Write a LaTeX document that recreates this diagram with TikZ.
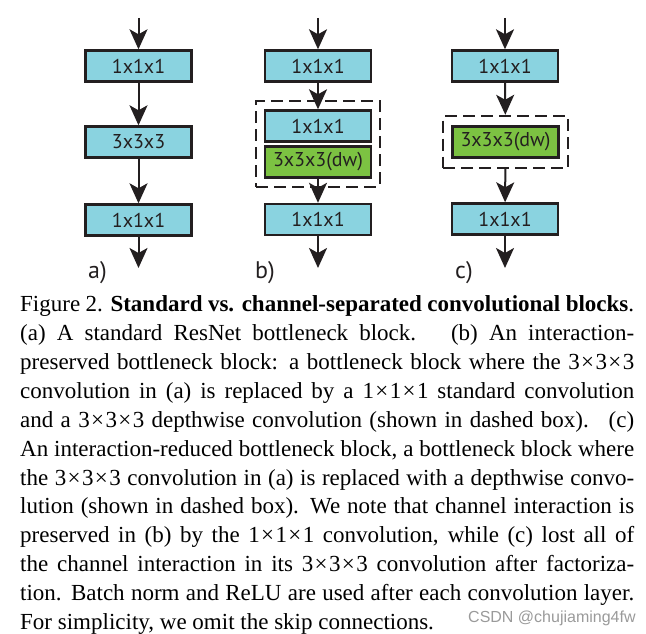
\documentclass[tikz,border=0pt]{standalone}
\usepackage{fontspec}
\setmainfont{Liberation Serif}
\newfontfamily\boxfont{PT Sans}
\newfontfamily\markfont{Liberation Sans}
\usepackage{xcolor}
\usetikzlibrary{arrows.meta,fit}
\definecolor{box_blue}{HTML}{8AD3E0}
\definecolor{box_green}{HTML}{7CC242}
\definecolor{edge_dark}{HTML}{231F20}
\definecolor{mark_gray}{HTML}{9A9A9A}
\newcommand{\capline}[1]{\makebox[614bp][s]{#1}}
\newcommand{\tms}{\kern0.06em×\kern0.06em}

\begin{document}
\begin{tikzpicture}[x=1bp, y=-1bp,
	conv/.style={draw=edge_dark, line width=2.4bp, inner sep=0pt, minimum width=106bp, minimum height=31bp, font=\boxfont\fontsize{20bp}{22bp}\selectfont, text=edge_dark},
	std/.style={conv, fill=box_blue},
	dw/.style={conv, fill=box_green},
	group/.style={draw=edge_dark, line width=2bp, dash pattern=on 12bp off 6bp},
	flow/.style={draw=edge_dark, line width=2bp, -{Stealth[length=20bp, width=18bp, inset=5bp]}},
	tag/.style={anchor=base west, inner sep=0pt, font=\boxfont\fontsize{24bp}{26bp}\selectfont, text=edge_dark}]
	\useasboundingbox (0, 0) rectangle (646, 634);
	% a) standard bottleneck
	\coordinate (a_in) at (138.5, 18);
	\coordinate (a_out) at (138.5, 268);
	\node[std] (a1) at (138.5, 66) {1x1x1};
	\node[std] (a2) at (138.5, 142) {3x3x3};
	\node[std] (a3) at (138.5, 220) {1x1x1};
	\draw[flow] (a_in) -- (a1);
	\draw[flow] (a1) -- (a2);
	\draw[flow] (a2) -- (a3);
	\draw[flow] (a3) -- (a_out);
	\node[tag] (a_tag) at (88, 278) {a)};
	% b) interaction-preserved
	\coordinate (b_in) at (318, 18);
	\coordinate (b_out) at (318, 268);
	\node[std] (b1) at (318, 66) {1x1x1};
	\node[std] (b2) at (318, 126) {1x1x1};
	\node[dw] (b3) at (318, 162) {3x3x3(dw)};
	\node[std] (b4) at (318, 219.5) {1x1x1};
	\node[group, fit=(b2)(b3), inner xsep=7.5bp, inner ysep=8bp] (b_group) {};
	\draw[flow] (b_in) -- (b1);
	\draw[flow] (b1) -- (b2);
	\draw[flow] (b3) -- (b4);
	\draw[flow] (b4) -- (b_out);
	\node[tag] (b_tag) at (255, 278) {b)};
	% c) interaction-reduced
	\coordinate (c_in) at (505, 18);
	\coordinate (c_out) at (505, 268);
	\node[std] (c1) at (505, 66) {1x1x1};
	\node[dw] (c2) at (505.5, 142) {3x3x3(dw)};
	\node[std] (c3) at (505, 219) {1x1x1};
	\node[group, fit=(c2), inner xsep=8bp, inner ysep=9.5bp] (c_group) {};
	\draw[flow] (c_in) -- (c1);
	\draw[flow] (c1) -- (c_group);
	\draw[flow] (c_group) -- (c3);
	\draw[flow] (c3) -- (c_out);
	\node[tag] (c_tag) at (455, 278) {c)};
	% caption
	\node[anchor=north west, inner sep=0pt, align=left, font=\fontsize{23bp}{28.9bp}\selectfont] (caption) at (20, 295.5) {%
		\capline{Figure 2. \textbf{Standard vs. channel-separated convolutional blocks}.}\\
		\capline{(a) A standard ResNet bottleneck block. \ (b) An interaction-}\\
		\capline{preserved bottleneck block: a bottleneck block where the 3\tms3\tms3}\\
		\capline{convolution in (a) is replaced by a 1\tms1\tms1 standard convolution}\\
		\capline{and a 3\tms3\tms3 depthwise convolution (shown in dashed box). \ (c)}\\
		\capline{An interaction-reduced bottleneck block, a bottleneck block where}\\
		\capline{the 3\tms3\tms3 convolution in (a) is replaced with a depthwise convo-}\\
		\capline{lution (shown in dashed box). We note that channel interaction is}\\
		\capline{preserved in (b) by the 1\tms1\tms1 convolution, while (c) lost all of}\\
		\capline{the channel interaction in its 3\tms3\tms3 convolution after factoriza-}\\
		\capline{tion. Batch norm and ReLU are used after each convolution layer.}\\
		For simplicity, we omit the skip connections.};
	\node[anchor=base west, inner sep=0pt, text=mark_gray, font=\markfont\fontsize{16bp}{18bp}\selectfont] (mark) at (468, 622) {CSDN @chujiaming4fw};
\end{tikzpicture}
\end{document}
